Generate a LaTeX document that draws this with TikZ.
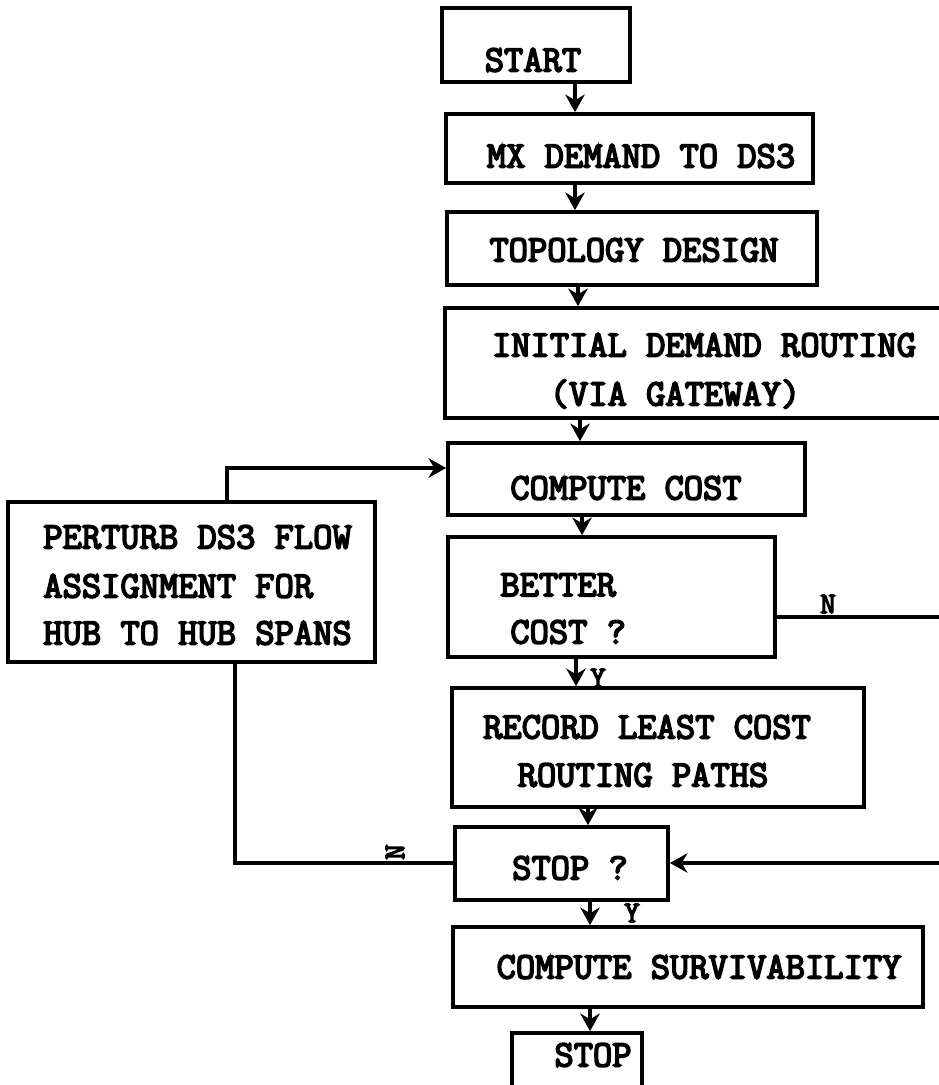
\documentclass[tikz,border=0pt]{standalone}
\usepackage{fontspec}
\newfontfamily\courfont{Latin Modern Mono}[FakeBold=4.5]
\usetikzlibrary{fit,arrows.meta}
\tikzset{
  box/.style={draw, line width=2.1pt, inner sep=0pt},
  txt/.style={font=\fontsize{21.3}{22}\selectfont\courfont, inner sep=0pt},
  lbl/.style={font=\fontsize{17}{18}\selectfont\courfont, inner sep=0pt},
  conn/.style={line width=1.8pt, -{Stealth[length=10pt,width=11pt]}},
  plain/.style={line width=1.8pt}
}
\begin{document}
\begin{tikzpicture}[x=0.02cm,y=-0.02cm]
\useasboundingbox (0,0) rectangle (938,1085);
% boxes
\node[box, fit={(442,8) (630,82)}] (start) {};
\node[box, fit={(446,114) (813,183)}] (mx) {};
\node[box, fit={(447,212) (817,285)}] (topo) {};
\node[box, fit={(445,308) (960,418)}] (init) {};
\node[box, fit={(448,443) (805,515)}] (cc) {};
\node[box, fit={(448,537) (775,657)}] (better) {};
\node[box, fit={(452,688) (864,807)}] (record) {};
\node[box, fit={(455,827) (668,900)}] (stopq) {};
\node[box, fit={(453,927) (923,1007)}] (surv) {};
\node[box, fit={(512,1033) (642,1100)}] (stop) {};
\node[box, fit={(8,502) (375,662)}] (perturb) {};
% texts
\node[txt] (tstart) at (533,60) {START};
\node[txt] (tmx) at (641,156) {MX DEMAND TO DS3};
\node[txt] (ttopo) at (634,250) {TOPOLOGY DESIGN};
\node[txt] (tinit1) at (704,345) {INITIAL DEMAND ROUTING};
\node[txt] (tinit2) at (675,394) {(VIA GATEWAY)};
\node[txt] (tcc) at (626,488) {COMPUTE COST};
\node[txt, anchor=west] (tbet1) at (500,585) {BETTER};
\node[txt, anchor=west] (tbet2) at (510,632) {COST ?};
\node[txt] (trec1) at (647,727) {RECORD LEAST COST};
\node[txt] (trec2) at (643,775) {ROUTING PATHS};
\node[txt] (tstopq) at (570,868) {STOP ?};
\node[txt] (tsurv) at (699,967) {COMPUTE SURVIVABILITY};
\node[txt] (tstop) at (593,1055) {STOP};
\node[txt, anchor=west] (tp1) at (43,537) {PERTURB DS3 FLOW};
\node[txt, anchor=west] (tp2) at (43,586) {ASSIGNMENT FOR};
\node[txt, anchor=west] (tp3) at (43,633) {HUB TO HUB SPANS};
% labels
\node[lbl] (n1) at (828,604) {N};
\node[lbl, rotate=90] (n2) at (395,852) {N};
\node[lbl] (y1) at (598,678) {Y};
\node[lbl] (y2) at (632,913) {Y};
% connectors
\draw[conn] (start.south -| 575,0) -- (mx.north -| 575,0);
\draw[conn] (mx.south -| 575,0) -- (topo.north -| 575,0);
\draw[conn] (topo.south -| 578,0) -- (init.north -| 578,0);
\draw[conn] (init.south -| 580,0) -- (cc.north -| 580,0);
\draw[conn] (cc.south -| 582,0) -- (better.north -| 582,0);
\draw[conn] (better.south -| 576,0) -- (record.north -| 576,0);
\draw[conn] (record.south -| 588,0) -- (stopq.north -| 588,0);
\draw[conn] (stopq.south -| 590,0) -- (surv.north -| 590,0);
\draw[conn] (surv.south -| 590,0) -- (stop.north -| 590,0);
\coordinate (r1) at (955,617);
\coordinate (r2) at (955,863);
\draw[conn] (better.east |- 0,617) -- (r1) -- (r2) -- (stopq.east |- 0,863);
\coordinate (l1) at (235,863);
\draw[plain] (stopq.west |- 0,863) -- (l1) -- (perturb.south -| 235,0);
\coordinate (l2) at (227,468);
\draw[conn] (perturb.north -| 227,0) -- (l2) -- (cc.west |- 0,468);
\end{tikzpicture}
\end{document}
